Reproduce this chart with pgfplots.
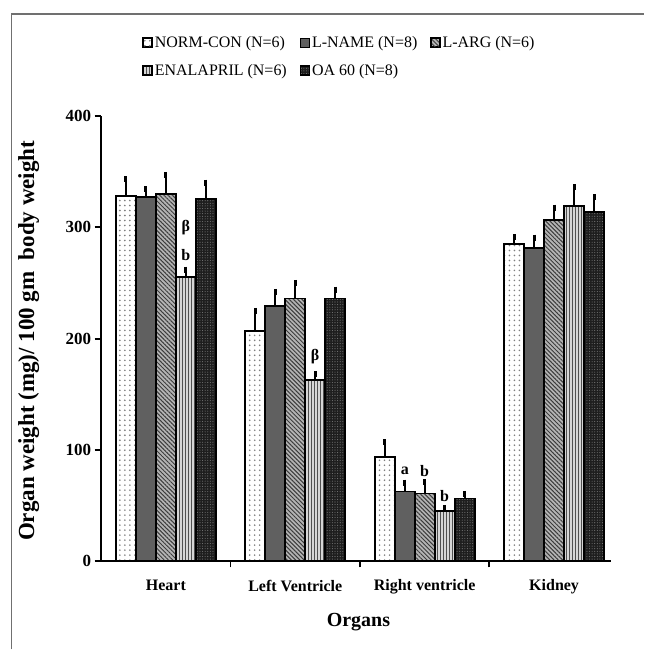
\documentclass[border=0pt]{standalone}
\usepackage{fontspec}
\setmainfont{Liberation Serif}
\usepackage{pgfplots}
\pgfplotsset{compat=1.18}
\usetikzlibrary{patterns.meta}
\definecolor{lname}{HTML}{606060}
\definecolor{largbg}{HTML}{B4B4B4}
\definecolor{largln}{HTML}{3C3C3C}
\definecolor{enabg}{HTML}{D6D6D6}
\definecolor{enaln}{HTML}{505050}
\definecolor{oabg}{HTML}{1E1E1E}
\definecolor{oadot}{HTML}{777777}
\definecolor{frame}{HTML}{707070}
\begin{document}
\begin{tikzpicture}
\begin{axis}[
  scale only axis, width=511pt, height=446pt,
  xmin=-0.504, xmax=3.44, ymin=0, ymax=400,
  axis lines*=left,
  axis line style={line width=1.8pt, -},
  clip=false,
  ybar=0pt, bar width=20pt,
  ytick={0,100,200,300,400},
  tick align=outside,
  major tick length=6pt,
  every tick/.style={black, line width=1.8pt},
  xtick={0.5,1.5,2.5},
  xticklabels={},
  extra x ticks={0,1,2,3},
  extra x tick labels={Heart,Left Ventricle,Right ventricle,Kidney},
  extra x tick style={major tick length=0pt},
  /pgf/number format/assume math mode=true,
  yticklabel style={font=\fontsize{17}{19}\selectfont\bfseries},
  xticklabel style={font=\fontsize{16}{18}\selectfont\bfseries, yshift=-15pt},
  xlabel={Organs},
  xlabel style={font=\fontsize{20}{22}\selectfont\bfseries, at={(axis description cs:0.505,0)}, anchor=center, yshift=-61pt},
  ylabel={Organ weight (mg)/ 100 gm\ \ body weight},
  ylabel style={font=\fontsize{23}{25}\selectfont\bfseries, at={(axis description cs:-0.141,0.495)}, anchor=center},
  legend columns=3,
  legend style={draw=none, fill=none, at={(axis description cs:0.082,1.183)}, anchor=north west,
    font=\fontsize{16}{18}\selectfont, inner sep=0pt, row sep=11pt,
    cells={anchor=west},
    /tikz/every even column/.append style={column sep=11pt},
    /tikz/every odd column/.append style={column sep=0pt}},
  legend image code/.code={\draw[#1, line width=1.2pt] (0pt,-4.5pt) rectangle (9pt,4.5pt);},
  error bars/y dir=plus, error bars/y explicit,
  error bars/error bar style={line width=2pt, black},
  error bars/error mark options={line width=3pt, mark size=3pt, black},
]
\addplot[draw=black, line width=1.8pt, preaction={fill=white}, pattern={Dots[distance=5pt,radius=0.9pt]}, pattern color=gray]
  coordinates {(0,328) +- (0,15) (1,207) +- (0,18) (2,94) +- (0,13) (3,285) +- (0,6)};
\addplot[draw=black, line width=1.8pt, fill=lname]
  coordinates {(0,327) +- (0,7) (1,229) +- (0,13) (2,62.7) +- (0,8) (3,281.6) +- (0,9)};
\addplot[draw=black, line width=1.8pt, preaction={fill=largbg}, pattern={Lines[angle=-45,distance=3pt,line width=1pt]}, pattern color=largln]
  coordinates {(0,330) +- (0,17) (1,236) +- (0,14) (2,61) +- (0,10) (3,306.7) +- (0,11)};
\addplot[draw=black, line width=1.8pt, preaction={fill=enabg}, pattern={Lines[angle=90,distance=3pt,line width=1.1pt]}, pattern color=enaln]
  coordinates {(0,255) +- (0,7) (1,163) +- (0,5) (2,45) +- (0,3) (3,319) +- (0,17)};
\addplot[draw=black, line width=1.8pt, preaction={fill=oabg}, pattern={Dots[distance=2.6pt,radius=0.55pt]}, pattern color=oadot]
  coordinates {(0,325) +- (0,15) (1,236) +- (0,8) (2,56.5) +- (0,4) (3,314) +- (0,13)};
\legend{NORM-CON (N=6),L-NAME (N=8),L-ARG (N=6),ENALAPRIL (N=6),OA 60 (N=8)}
\node[font=\fontsize{16}{18}\selectfont\bfseries] at (axis cs:0.154,300) {β};
\node[font=\fontsize{16}{18}\selectfont\bfseries] at (axis cs:0.154,275) {b};
\node[font=\fontsize{16}{18}\selectfont\bfseries] at (axis cs:1.154,184) {β};
\node[font=\fontsize{16}{18}\selectfont\bfseries] at (axis cs:1.846,81) {a};
\node[font=\fontsize{16}{18}\selectfont\bfseries] at (axis cs:2.0,81) {b};
\node[font=\fontsize{16}{18}\selectfont\bfseries] at (axis cs:2.154,58.5) {b};
\path (axis cs:-0.504,0) ++(-100pt,-88pt) coordinate (BL);
\path (BL) rectangle ++(644pt,650pt);
\draw[frame, line width=1.5pt] (BL) ++(11pt,0pt) -- ++(0pt,636pt) -- ++(633pt,0pt);
\end{axis}
\end{tikzpicture}
\end{document}
